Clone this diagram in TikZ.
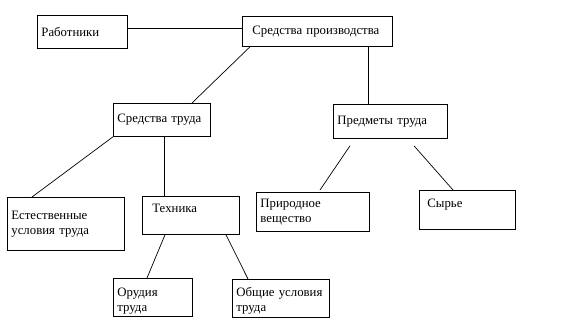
\documentclass[tikz,border=0pt]{standalone}
\usepackage{fontspec}
\setmainfont{Liberation Serif}
\usetikzlibrary{calc}
\begin{document}
\begin{tikzpicture}[x=1pt,y=-1pt,
  box/.style={draw, line width=0.8pt, anchor=north west, align=left, inner xsep=4pt, inner ysep=2pt, font=\fontsize{12.8}{15}\selectfont},
  link/.style={line width=0.7pt}]
\useasboundingbox (0,0) rectangle (563,325);
\node[box, minimum width=90pt, minimum height=33pt, text width=82pt] (rab) at (37,15) {Работники};
\node[box, minimum width=150pt, minimum height=30pt, inner xsep=10pt, text width=130pt] (sp) at (242,16) {Средства производства};
\node[box, minimum width=97pt, minimum height=33pt, text width=89pt] (st) at (113,103) {Средства труда};
\node[box, minimum width=114pt, minimum height=34pt, text width=106pt] (pt) at (333,104) {Предметы труда};
\node[box, minimum width=117pt, minimum height=53pt, text width=109pt, text depth=18pt] (est) at (7,197) {Естественные\\условия труда};
\node[box, minimum width=91pt, minimum height=38pt, text width=77pt, inner xsep=10pt, text depth=14pt] (teh) at (142,196) {Техника};
\node[box, minimum width=113pt, minimum height=39pt, text width=105pt] (prir) at (256,192) {Природное\\вещество};
\node[box, minimum width=96pt, minimum height=39pt, text width=80pt, inner xsep=8pt, text depth=14pt] (syr) at (419,190) {Сырье};
\node[box, minimum width=79pt, minimum height=38pt, text width=71pt] (or) at (113,278) {\rule{0pt}{15pt}Орудия\\труда};
\node[box, minimum width=97pt, minimum height=38pt, text width=89pt] (ob) at (232,279) {\rule{0pt}{14pt}Общие условия\\труда};
% connectors
\draw[link] (rab.east |- 0,28) -- (sp.west |- 0,28);
\path (sp.south west) ++(8,0) coordinate (c1);
\draw[link] (c1) -- ($(st.north west)+(79,0)$);
\draw[link] (sp.south -| 368,0) -- (pt.north -| 368,0);
\draw[link] (st.south west) -- ($(est.north west)+(25,0)$);
\draw[link] (st.south -| 164,0) -- (teh.north -| 164,0);
\draw[link] ($(pt.south west)+(17,7)$) -- ($(prir.north west)+(64,-2)$);
\draw[link] ($(pt.south west)+(81,7)$) -- ($(syr.north west)+(34,0)$);
\draw[link] ($(teh.south west)+(23,0)$) -- ($(or.north west)+(34,0)$);
\draw[link] ($(teh.south west)+(84,0)$) -- ($(ob.north west)+(16,0)$);
\end{tikzpicture}
\end{document}
